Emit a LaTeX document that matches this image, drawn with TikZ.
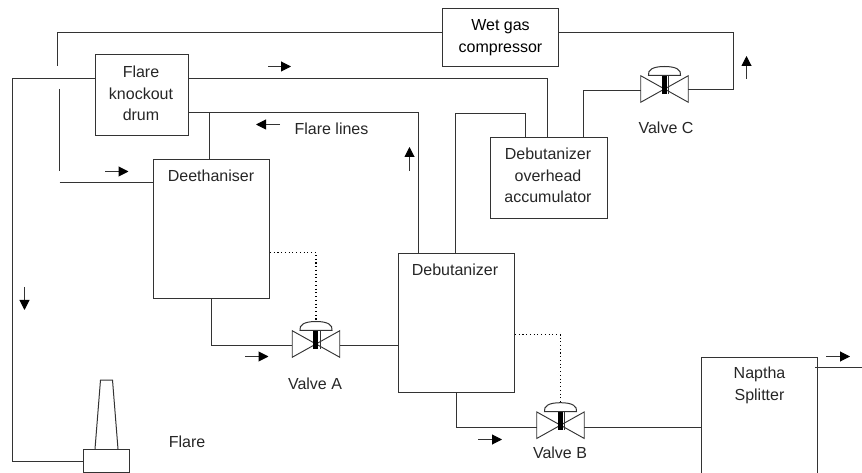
\documentclass[tikz,border=0pt]{standalone}
\usepackage{fontspec}
\setmainfont{Liberation Sans}
\usetikzlibrary{arrows.meta}
\definecolor{ink}{gray}{0.2}
\tikzset{
  x=0.75pt, y=-0.75pt,
  line/.style={draw=ink, line width=0.75pt},
  box/.style={line, rectangle, inner sep=0pt, align=center, font=\fontsize{12}{16}\selectfont},
  lab/.style={inner sep=0pt, align=center, text=black!85, font=\fontsize{12}{16}\selectfont},
  flow/.style={draw=ink, line width=0.75pt, -{Triangle[length=7.5pt,width=7.5pt,black]}},
  signal/.style={draw=black, line width=0.8pt, dotted},
  valvebody/.style={rectangle, inner sep=0pt, minimum width=47*0.75pt, minimum height=26*0.75pt},
}
% \valvesym{name}{x}{y}
\newcommand{\valvesym}[3]{%
  \node[valvebody] (#1) at (#2,#3) {};
  \draw[draw=ink, line width=0.7pt, line join=miter] (#1.north west) -- (#1.south east) -- (#1.north east) -- (#1.south west) -- cycle;
  \fill[black] ([xshift=-2.6*0.75pt,yshift=13*0.75pt]#1.center) rectangle ([xshift=2.2*0.75pt,yshift=-5*0.75pt]#1.center);
  \draw[ink, line width=0.6pt] ([xshift=4*0.75pt,yshift=13*0.75pt]#1.center) -- ([xshift=4*0.75pt,yshift=-5*0.75pt]#1.center);
  \draw[draw=ink, line width=0.75pt] ([xshift=-16*0.75pt,yshift=13.5*0.75pt]#1.center) .. controls ([xshift=-17*0.75pt,yshift=19*0.75pt]#1.center) and ([xshift=-12*0.75pt,yshift=22.5*0.75pt]#1.center) .. ([xshift=0pt,yshift=22.5*0.75pt]#1.center) .. controls ([xshift=12*0.75pt,yshift=22.5*0.75pt]#1.center) and ([xshift=17*0.75pt,yshift=19*0.75pt]#1.center) .. ([xshift=16*0.75pt,yshift=13.5*0.75pt]#1.center) -- cycle;
  \coordinate (#1top) at ([yshift=22.5*0.75pt]#1.center);
}
\begin{document}
\begin{tikzpicture}
\useasboundingbox (0,0) rectangle (862,473);

% vessels
\node[box, minimum width=93*0.75pt, minimum height=81*0.75pt] (drum) at (142,95) {};
\node[lab] (drumt) at (141,93.5) {Flare\\knockout\\drum};
\node[box, minimum width=116*0.75pt, minimum height=58*0.75pt] (comp) at (500.5,37.5) {Wet gas\\compressor};
\node[box, minimum width=116*0.75pt, minimum height=139*0.75pt] (deeth) at (211.5,229) {};
\node[lab] (deetht) at (211,176) {Deethaniser};
\node[box, minimum width=116*0.75pt, minimum height=139*0.75pt] (debut) at (456.5,323) {};
\node[lab] (debutt) at (455,270) {Debutanizer};
\node[box, minimum width=117*0.75pt, minimum height=81*0.75pt] (accum) at (549,178) {};
\node[lab] (accumt) at (548,175.5) {Debutanizer\\overhead\\accumulator};
\node[lab] (napthat) at (759.5,385.5) {Naptha\\Splitter};
\node[box, minimum width=46*0.75pt, minimum height=23*0.75pt] (base) at (106.5,461) {};

% naphtha splitter runs off the lower edge
\coordinate (nsw) at (701.5,480);
\coordinate (nse) at (817.5,480);
\draw[line] (nsw) -- (701.5,357.5) coordinate (nstopl) -- (817.5,357.5) coordinate (nstopr) -- (nse);

% flare stack
\draw[line] (base.north west -| 95,0) -- (100.5,380) -- (112.5,380) -- (base.north west -| 118,0);

% valves
\valvesym{va}{316}{344}
\valvesym{vb}{560.5}{425.2}
\valvesym{vc}{664.5}{89}

% free ends
\coordinate (feedtop) at (57.5,66);
\coordinate (feedmid) at (59.5,89);
\coordinate (feedlow) at (59.5,171);
\coordinate (feedin) at (59.5,182.5);
\coordinate (nout) at (862,367.5);

% process lines
\draw[line] (feedtop) |- (comp.west |- 0,32.5);
\draw[line] (feedmid) -- (feedlow);
\draw[line] (feedin) -- (deeth.west |- feedin);
\draw[line] (comp.east |- 0,32.5) -| (733.5,89.5) -- (vc.east |- 0,89.5);
\draw[line] (vc.west |- 0,90.5) -| (accum.north -| 583.5,0);
\draw[line] (drum.east |- 0,78.5) -| (accum.north -| 547.5,0);
\draw[line] (drum.west |- 0,78.5) -| (12.5,461.5) -- (base.west |- 0,461.5);
\draw[line] (drum.east |- 0,112.8) -| (debut.north -| 418.5,0);
\draw[line] (209.5,112.8) -- (deeth.north -| 209.5,0);
\draw[line] (deeth.south) |- (va.west |- 0,345.5);
\draw[line] (va.east |- 0,345.5) -- (debut.west |- 0,345.5);
\draw[line] (debut.north -| 455.5,0) |- (525.5,113.8) -- (accum.north -| 525.5,0);
\draw[line] (debut.south -| 456.5,0) |- (vb.west |- 0,427.5);
\draw[line] (vb.east |- 0,427.5) -- (nstopl |- 0,427.5);
\draw[line] (815,367.5) -- (nout);

% control signals
\draw[signal] (deeth.east |- 0,252.5) -| (vatop);
\draw[signal] (debut.east |- 0,334.5) -| (vbtop);

% flow arrows
\draw[flow] (268,66.5) -- (291,66.5);
\draw[flow] (280,124.5) -- (256,124.5);
\draw[flow] (409.5,171) -- (409.5,147);
\draw[flow] (105,171.5) -- (128.5,171.5);
\draw[flow] (24.5,287) -- (24.5,310);
\draw[flow] (245,356.5) -- (268.5,356.5);
\draw[flow] (478,439.5) -- (502,439.5);
\draw[flow] (826,356.5) -- (850,356.5);
\draw[flow] (746.5,79) -- (746.5,56);

% labels
\node[lab] (fl) at (331.5,128.5) {Flare lines};
\node[lab] (lva) at (315,384) {Valve A};
\node[lab] (lvb) at (560,453) {Valve B};
\node[lab] (lvc) at (666,128) {Valve C};
\node[lab] (lfl) at (187,442) {Flare};
\end{tikzpicture}
\end{document}
